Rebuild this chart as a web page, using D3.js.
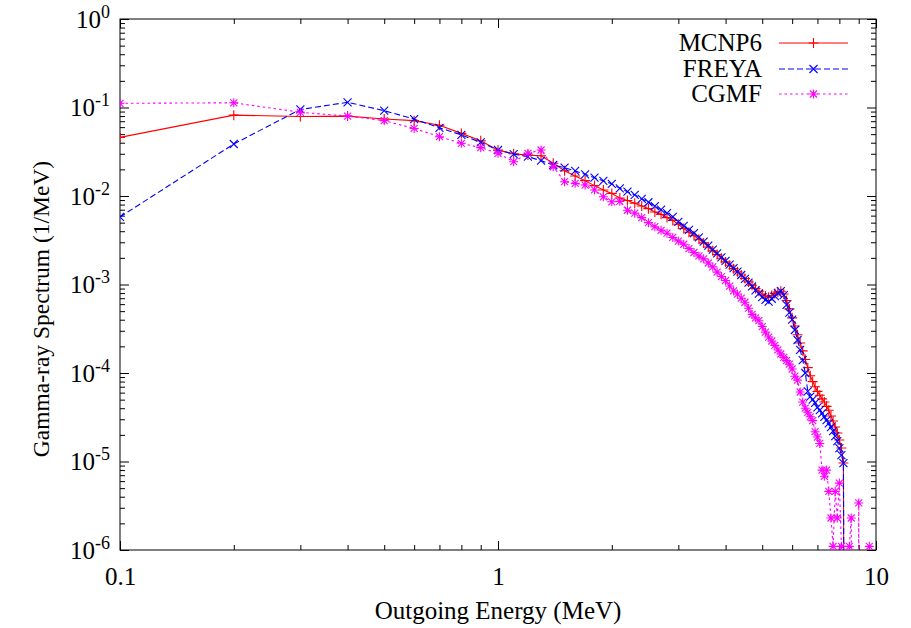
<!DOCTYPE html>
<html><head><meta charset="utf-8">
<script src="https://cdn.jsdelivr.net/npm/d3@7"></script>
<style>
html,body{margin:0;padding:0;background:#fff;}
svg{display:block;}
text{font-family:"Liberation Serif","DejaVu Serif",serif;fill:#000;}
</style></head>
<body>
<svg id="chart" width="911" height="628"></svg>
<script>
// ---- data (outgoing energy in MeV, spectrum in 1/MeV) ----
const energies = [0.1,0.2,0.3,0.4,0.5,0.6,0.7,0.8,0.9,1.0,
1.1,1.2,1.3,1.4,1.5,1.6,1.7,1.8,1.9,2.0,
2.1,2.2,2.3,2.4,2.5,2.6,2.7,2.8,2.9,3.0,
3.1,3.2,3.3,3.4,3.5,3.6,3.7,3.8,3.9,4.0,
4.1,4.2,4.3,4.4,4.5,4.6,4.7,4.8,4.9,5.0,
5.1,5.2,5.3,5.4,5.5,5.6,5.7,5.8,5.9,6.0,
6.1,6.2,6.3,6.4,6.5,6.6,6.7,6.8,6.9,7.0,
7.1,7.2,7.3,7.4,7.5,7.6,7.7,7.8,7.9,8.0,
8.1,8.2,8.3,8.4,8.5,8.6,8.7,8.8,8.9,9.0,
9.1,9.2,9.3,9.4,9.5,9.6,9.7];

const mcnp6 = [0.046,0.082,0.079,0.080,0.074,0.071,0.063,0.051,0.042,0.033,
0.030,0.029,0.0285,0.0234,0.0193,0.0168,0.0149,0.0131,0.0117,0.0107,
0.0095,0.0089,0.0083,0.0077,0.0072,0.0066,0.0062,0.0057,0.0053,0.0048,
0.0043,0.0039,0.00355,0.00325,0.00295,0.00265,0.0024,0.00218,0.00198,0.0018,
0.00165,0.00151,0.00139,0.00128,0.00117,0.00107,0.00098,0.0009,0.00084,0.00078,
0.00074,0.00072,0.00075,0.00079,0.00082,0.00084,0.00078,0.00066,0.00053,0.00042,
0.00034,0.00027,0.000218,0.000178,0.000142,0.000115,0.000093,0.00008,0.00007,0.000062,
0.000056,0.000051,0.000047,0.000042,0.000038,0.0000327,0.0000287,0.0000245,0.000021,0.0000175,
0.0000142,0.0000096,1e-12];

const freya = [0.0058,0.0387,0.095,0.1145,0.092,0.074,0.059,0.049,0.0404,0.0331,
0.0298,0.0278,0.0251,0.0224,0.0209,0.0192,0.0176,0.0161,0.0148,0.0137,
0.0122,0.0112,0.0103,0.0093,0.0085,0.0077,0.0070,0.0064,0.0058,0.0051,
0.0046,0.00415,0.0038,0.0034,0.00305,0.00275,0.00248,0.00225,0.00203,0.00185,
0.00168,0.00153,0.0014,0.00128,0.00116,0.00105,0.00095,0.00086,0.00079,0.00072,
0.00067,0.00064,0.00069,0.00074,0.0008,0.00084,0.00076,0.00059,0.00048,0.0004,
0.000306,0.000236,0.000182,0.00014,0.0001,0.000062,0.000054,0.00005,0.000046,0.000041,
0.000038,0.000035,0.000032,0.0000294,0.0000269,0.0000245,0.0000221,0.0000194,0.000017,0.0000142,
0.0000118,0.0000096,1e-12];

const cgmf = [0.1115,0.113,0.0883,0.080,0.071,0.058,0.0468,0.0394,0.0352,0.0304,
0.0244,0.0304,0.0331,0.0214,0.0145,0.0139,0.0133,0.0117,0.0098,0.0086,
0.0087,0.0069,0.0064,0.0057,0.0050,0.0045,0.0041,0.0038,0.0034,0.0031,
0.00285,0.00255,0.0023,0.0021,0.00195,0.00175,0.00158,0.00138,0.00123,0.00111,
0.00096,0.000845,0.00078,0.0007,0.00063,0.00054,0.00046,0.00042,0.00039,0.000335,
0.00029,0.000255,0.00023,0.000205,0.000182,0.000164,0.00015,0.000138,0.000126,0.000111,
0.000092,0.000083,0.000061,0.000047,0.00004,0.000036,0.000032,0.000029,0.0000217,0.0000189,
0.000016,0.000008,0.0000068,0.000008,0.0000046,0.0000023,0.0000011,0.0000046,0.0000023,0.0000057,
0.0000011,1e-12,1e-12,1e-12,0.0000011,0.0000023,1e-12,1e-12,1e-12,0.0000034,
1e-12,1e-12,1e-12,1e-12,1e-12,0.0000011,1e-12];

const seriesNames = ["MCNP6","FREYA","CGMF"];
const xTickLabels = ["0.1","1","10"];
const yTickExponents = ["0","-1","-2","-3","-4","-5","-6"];
const xTitle = "Outgoing Energy (MeV)";
const yTitle = "Gamma-ray Spectrum (1/MeV)";

// ---- layout ----
const L = 120, R = 876, T = 19, B = 550;
const svg = d3.select("#chart");
const x = d3.scaleLog().domain([0.1, 10]).range([L, R]);
const y = d3.scaleLog().domain([1e-6, 1]).range([B, T]);

const xMajor = [0.1, 1, 10];
const xMinor = [];
[0.1, 1].forEach(d => { for (let k = 2; k <= 9; k++) xMinor.push(d * k); });
const yMajor = [1, 1e-1, 1e-2, 1e-3, 1e-4, 1e-5, 1e-6];
const yMinor = [];
[1e-6, 1e-5, 1e-4, 1e-3, 1e-2, 1e-1].forEach(d => { for (let k = 2; k <= 9; k++) yMinor.push(d * k); });

function axisGroup(axis, tr) {
  const g = svg.append("g").attr("transform", tr).call(axis);
  g.select(".domain").remove();
  g.selectAll("line").attr("stroke", "#000").attr("stroke-width", 1);
  return g;
}
// bottom
const gxb = axisGroup(d3.axisBottom(x).tickValues(xMajor).tickSizeInner(-9).tickSizeOuter(0).tickPadding(17)
  .tickFormat((d, i) => xTickLabels[i]), `translate(0,${B})`);
gxb.selectAll("text").attr("font-size", 25).attr("font-family", "Liberation Serif").attr("dy", "0.71em");
axisGroup(d3.axisBottom(x).tickValues(xMinor).tickSizeInner(-5).tickSizeOuter(0).tickFormat(""), `translate(0,${B})`);
// top mirror
axisGroup(d3.axisTop(x).tickValues(xMajor).tickSizeInner(-9).tickSizeOuter(0).tickFormat(""), `translate(0,${T})`);
axisGroup(d3.axisTop(x).tickValues(xMinor).tickSizeInner(-5).tickSizeOuter(0).tickFormat(""), `translate(0,${T})`);
// left
const gyl = axisGroup(d3.axisLeft(y).tickValues(yMajor).tickSizeInner(-9).tickSizeOuter(0).tickPadding(10)
  .tickFormat(""), `translate(${L},0)`);
gyl.selectAll(".tick").each(function(d, i) {
  const t = d3.select(this).append("text").attr("x", -10).attr("dy", "0.32em")
    .attr("text-anchor", "end").attr("font-size", 25).attr("font-family", "Liberation Serif").attr("fill", "#000");
  t.append("tspan").text("10");
  t.append("tspan").attr("font-size", 18).attr("dy", "-0.55em").text(yTickExponents[i]);
});
axisGroup(d3.axisLeft(y).tickValues(yMinor).tickSizeInner(-5).tickSizeOuter(0).tickFormat(""), `translate(${L},0)`);
// right mirror
axisGroup(d3.axisRight(y).tickValues(yMajor).tickSizeInner(-9).tickSizeOuter(0).tickFormat(""), `translate(${R},0)`);
axisGroup(d3.axisRight(y).tickValues(yMinor).tickSizeInner(-5).tickSizeOuter(0).tickFormat(""), `translate(${R},0)`);

// border
svg.append("rect").attr("x", L).attr("y", T).attr("width", R - L).attr("height", B - T)
  .attr("fill", "none").attr("stroke", "#000").attr("stroke-width", 1);

// titles
svg.append("text").attr("x", (L + R) / 2).attr("y", 619).attr("text-anchor", "middle")
  .attr("font-size", 25).text(xTitle);
svg.append("text").attr("transform", `translate(49,309) rotate(-90)`)
  .attr("text-anchor", "middle").attr("font-size", 23.5).text(yTitle);

// clip
svg.append("defs").append("clipPath").attr("id", "plotclip").append("rect")
  .attr("x", L).attr("y", T).attr("width", R - L).attr("height", B - T);

const markerPaths = {
  plus: "M-5,0H5M0,-5V5",
  cross: "M-4,-4L4,4M-4,4L4,-4",
  star: "M-4.5,0H4.5M0,-4.5V4.5M-3.5,-3.5L3.5,3.5M-3.5,3.5L3.5,-3.5"
};
const series = [
  {name: seriesNames[0], values: mcnp6, color: "#ff0000", dash: null, marker: "plus"},
  {name: seriesNames[1], values: freya, color: "#0000ff", dash: "6,3", marker: "cross"},
  {name: seriesNames[2], values: cgmf, color: "#ff00ff", dash: "2.5,3", marker: "star"}
];

const plot = svg.append("g").attr("clip-path", "url(#plotclip)");
const line = d3.line().x(d => x(d.e)).y(d => y(d.v));
series.forEach(s => {
  const pts = s.values.map((v, i) => ({e: energies[i], v: v}));
  const g = plot.append("g");
  g.append("path").datum(pts).attr("d", line).attr("fill", "none")
    .attr("stroke", s.color).attr("stroke-width", 1.1)
    .attr("stroke-dasharray", s.dash);
  g.selectAll("path.m").data(pts.filter(d => d.v >= 1e-6 * 0.999)).enter().append("path")
    .attr("class", "m").attr("d", markerPaths[s.marker])
    .attr("transform", d => `translate(${x(d.e)},${y(d.v)})`)
    .attr("fill", "none").attr("stroke", s.color).attr("stroke-width", 1.1);
});

// legend
const legY = [43, 69, 94];
series.forEach((s, i) => {
  const ly = legY[i];
  svg.append("text").attr("x", 762).attr("y", ly).attr("dy", "0.33em").attr("text-anchor", "end")
    .attr("font-size", 25).text(s.name);
  svg.append("line").attr("x1", 779).attr("x2", 848).attr("y1", ly).attr("y2", ly)
    .attr("stroke", s.color).attr("stroke-width", 1.1).attr("stroke-dasharray", s.dash);
  svg.append("path").attr("d", markerPaths[s.marker]).attr("transform", `translate(813.5,${ly})`)
    .attr("fill", "none").attr("stroke", s.color).attr("stroke-width", 1.1);
});
</script>
</body></html>
